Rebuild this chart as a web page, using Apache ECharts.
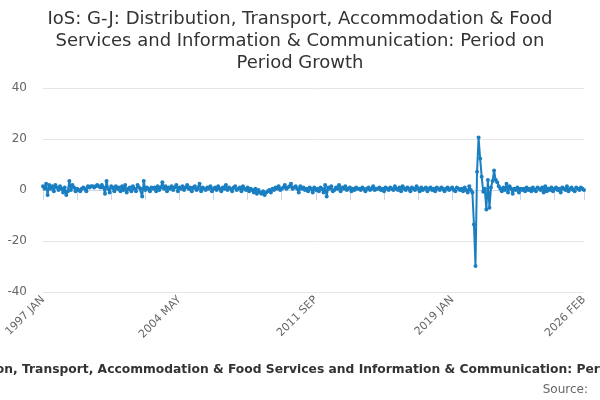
<!DOCTYPE html>
<html>
<head>
<meta charset="utf-8">
<script src="https://cdn.jsdelivr.net/npm/echarts@6/dist/echarts.min.js"></script>
<style>
  html, body { margin: 0; padding: 0; background: #fff; }
  #chart-container { width: 600px; height: 400px; }
</style>
</head>
<body>
<div id="chart-container"></div>
<script>
var seriesName = 'IoS: G-J: Distribution, Transport, Accommodation & Food Services and Information & Communication: Period on Period Growth';
var titleText = 'IoS: G-J: Distribution, Transport, Accommodation & Food\nServices and Information & Communication: Period on\nPeriod Growth';

var monthNames = ['JAN', 'FEB', 'MAR', 'APR', 'MAY', 'JUN', 'JUL', 'AUG', 'SEP', 'OCT', 'NOV', 'DEC'];
var firstYear = 1997;
var labelledMonths = ['1997 JAN', '2004 MAY', '2011 SEP', '2019 JAN', '2026 FEB'];
var yTicks = [-40, -20, 0, 20, 40];

// monthly growth, % (one row per year)
var growth = [
  1.5, 0.5, 2.5, -2.0, 2.0, 0.5, 1.5, -0.5, 2.0, 1.0, 0.0, 1.5,      // 1997
  0.5, -1.0, 1.0, -2.0, -0.5, 3.5, 0.0, 2.0, 1.0, -0.5, 0.5, 0.0,    // 1998
  -0.5, 0.5, 1.0, 0.5, -0.5, 1.5, 1.0, 1.5, 1.5, 1.0, 1.5, 2.0,      // 1999
  1.5, 1.0, 2.0, 1.0, -1.5, 3.5, 0.5, -1.0, 1.5, 1.0, -0.5, 1.5,     // 2000
  0.5, 1.0, -0.5, 1.5, 0.0, 2.0, -1.0, 0.5, 1.0, -0.5, 1.5, 0.5,     // 2001
  -0.5, 2.0, 1.0, 0.5, -2.5, 3.5, 0.0, 1.0, 0.5, -0.5, 1.0, 0.5,     // 2002
  1.0, -0.5, 1.5, 0.0, 1.0, 3.0, 0.5, 1.5, -0.5, 1.0, 0.5, 1.5,      // 2003
  0.0, 1.0, 2.0, -0.5, 1.0, 0.5, 1.5, 0.0, 1.0, 2.0, 0.5, 1.0,       // 2004
  -0.5, 1.0, 1.5, 0.0, 0.5, 2.5, -0.5, 1.0, 0.5, 0.0, 1.0, 0.5,      // 2005
  1.5, -0.5, 0.5, 1.0, 0.0, 1.5, 0.5, -0.5, 1.0, 0.5, 2.0, 0.0,      // 2006
  1.0, 0.5, -0.5, 1.0, 1.5, 0.0, 0.5, 1.0, -0.5, 1.5, 0.5, 0.0,      // 2007
  1.0, -0.5, 0.5, 0.0, -1.0, 0.5, -1.5, 0.0, -1.0, -1.5, -0.5, -2.0, // 2008
  -1.0, -0.5, 0.0, -1.0, 0.5, 0.0, 1.0, 0.5, 1.5, 0.0, 0.5, 1.0,     // 2009
  2.0, 0.5, 1.0, 1.5, 2.5, 0.5, 1.0, 1.5, 0.5, -1.0, 1.5, 0.5,       // 2010
  1.0, 0.0, 0.5, -0.5, 1.0, 0.5, -1.0, 1.0, 0.0, 0.5, -0.5, 1.0,     // 2011
  0.5, -1.0, 2.0, -2.5, 1.0, 0.5, 1.5, -0.5, 0.0, 1.0, 0.5, 2.0,     // 2012
  -0.5, 1.0, 0.5, 1.5, 0.0, 0.5, 1.0, -0.5, 0.5, 0.0, 1.0, 0.5,      // 2013
  0.5, 0.0, 1.0, 0.5, -0.5, 0.5, 1.0, 0.0, 0.5, 1.5, 0.0, 0.5,       // 2014
  0.5, 1.0, 0.0, 0.5, -0.5, 1.0, 0.5, 0.0, 1.0, 0.5, 0.0, 1.5,       // 2015
  0.5, 0.0, 1.0, -0.5, 1.5, 0.5, 0.0, 1.0, 0.5, -0.5, 1.0, 0.5,      // 2016
  0.0, 1.5, 0.5, -0.5, 1.0, 0.0, 0.5, 1.0, -0.5, 0.5, 1.0, 0.0,      // 2017
  0.5, -0.5, 1.0, 0.5, 0.0, 1.0, 0.5, -0.5, 0.5, 1.0, 0.0, 0.5,      // 2018
  1.0, 0.0, -0.5, 1.0, 0.5, 0.0, 0.5, -0.5, 1.0, 0.0, -1.0, 1.5,     // 2019
  0.0, -1.0, -13.5, -29.8, 7.2, 20.6, 12.4, 5.2, -0.7, 0.5, -7.6, 3.9, // 2020
  -7.0, 1.0, 3.5, 7.6, 4.0, 3.0, 1.5, 0.5, -0.5, 1.0, 0.0, 2.5,      // 2021
  -1.0, 1.5, 0.5, -1.5, 0.5, 0.0, 1.0, -1.0, 0.5, 0.0, 0.5, -0.5,    // 2022
  1.0, 0.0, 0.5, -0.5, 1.0, 0.0, -0.5, 1.0, 0.5, 0.0, 1.0, -1.0,     // 2023
  1.5, -0.5, 0.5, 0.0, 1.0, -0.5, 0.5, 1.0, 0.0, 0.5, -1.0, 1.0,     // 2024
  0.5, 0.0, 1.5, -0.5, 0.5, 1.0, 0.0, -0.5, 1.0, 0.5, 0.0, 1.0,      // 2025
  0.5, 0.0                                                           // 2026
];

var months = [];
for (var i = 0; i < growth.length; i++) {
  months.push((firstYear + Math.floor(i / 12)) + ' ' + monthNames[i % 12]);
}

var dom = document.getElementById('chart-container');
var myChart = echarts.init(dom, null, { renderer: 'canvas' });
var FONT = '"DejaVu Sans", sans-serif';
var LEGEND_FONT = 'bold 12.3px "DejaVu Sans", sans-serif';

// the series name is wider than the chart and is cut at both sides;
// place it so that "Transport," starts at the same spot as in the picture
var ctx = document.createElement('canvas').getContext('2d');
ctx.font = LEGEND_FONT;
var prefixWidth = ctx.measureText('IoS: G-J: Distribution, ').width;

function showTick(idx) {
  return idx % 22 === 0 || idx === months.length - 1;
}

var option = {
  animation: false,
  textStyle: { fontFamily: FONT },
  title: {
    text: titleText,
    left: 'center',
    top: 3,
    textStyle: {
      fontFamily: FONT,
      fontSize: 18,
      fontWeight: 'normal',
      color: '#333333',
      lineHeight: 22
    }
  },
  graphic: [{
    type: 'text',
    x: 22 - prefixWidth,
    y: 370,
    style: {
      text: seriesName,
      font: LEGEND_FONT,
      fill: '#333333',
      textAlign: 'left',
      textVerticalAlign: 'middle'
    }
  }, {
    type: 'text',
    right: 12,
    top: 384,
    style: { text: 'Source:', font: '12px "DejaVu Sans", sans-serif', fill: '#666666' }
  }],
  grid: { left: 43, right: 16, top: 88, bottom: 108 },
  xAxis: {
    type: 'category',
    boundaryGap: false,
    data: months,
    axisLine: { lineStyle: { color: '#ccd6eb' } },
    axisTick: { interval: function (idx) { return showTick(idx); }, length: 10, lineStyle: { color: '#ccd6eb' } },
    axisLabel: {
      interval: function (idx, val) { return labelledMonths.indexOf(val) >= 0; },
      rotate: 45,
      color: '#666666',
      fontSize: 11,
      fontFamily: FONT,
      margin: 6
    },
    splitLine: { show: false }
  },
  yAxis: {
    type: 'value',
    min: yTicks[0],
    max: yTicks[yTicks.length - 1],
    interval: 20,
    axisLine: { show: false },
    axisTick: { show: false },
    axisLabel: { color: '#666666', fontSize: 12, fontFamily: FONT, margin: 16 },
    splitLine: { lineStyle: { color: '#e6e6e6' } }
  },
  series: [{
    name: seriesName,
    type: 'line',
    data: growth,
    color: '#1a7fc1',
    lineStyle: { width: 2, color: '#1a7fc1' },
    symbol: 'circle',
    symbolSize: 4,
    showSymbol: true,
    showAllSymbol: true,
    itemStyle: { color: '#1a7fc1' }
  }]
};

myChart.setOption(option);
window.addEventListener('resize', myChart.resize);
</script>
</body>
</html>
